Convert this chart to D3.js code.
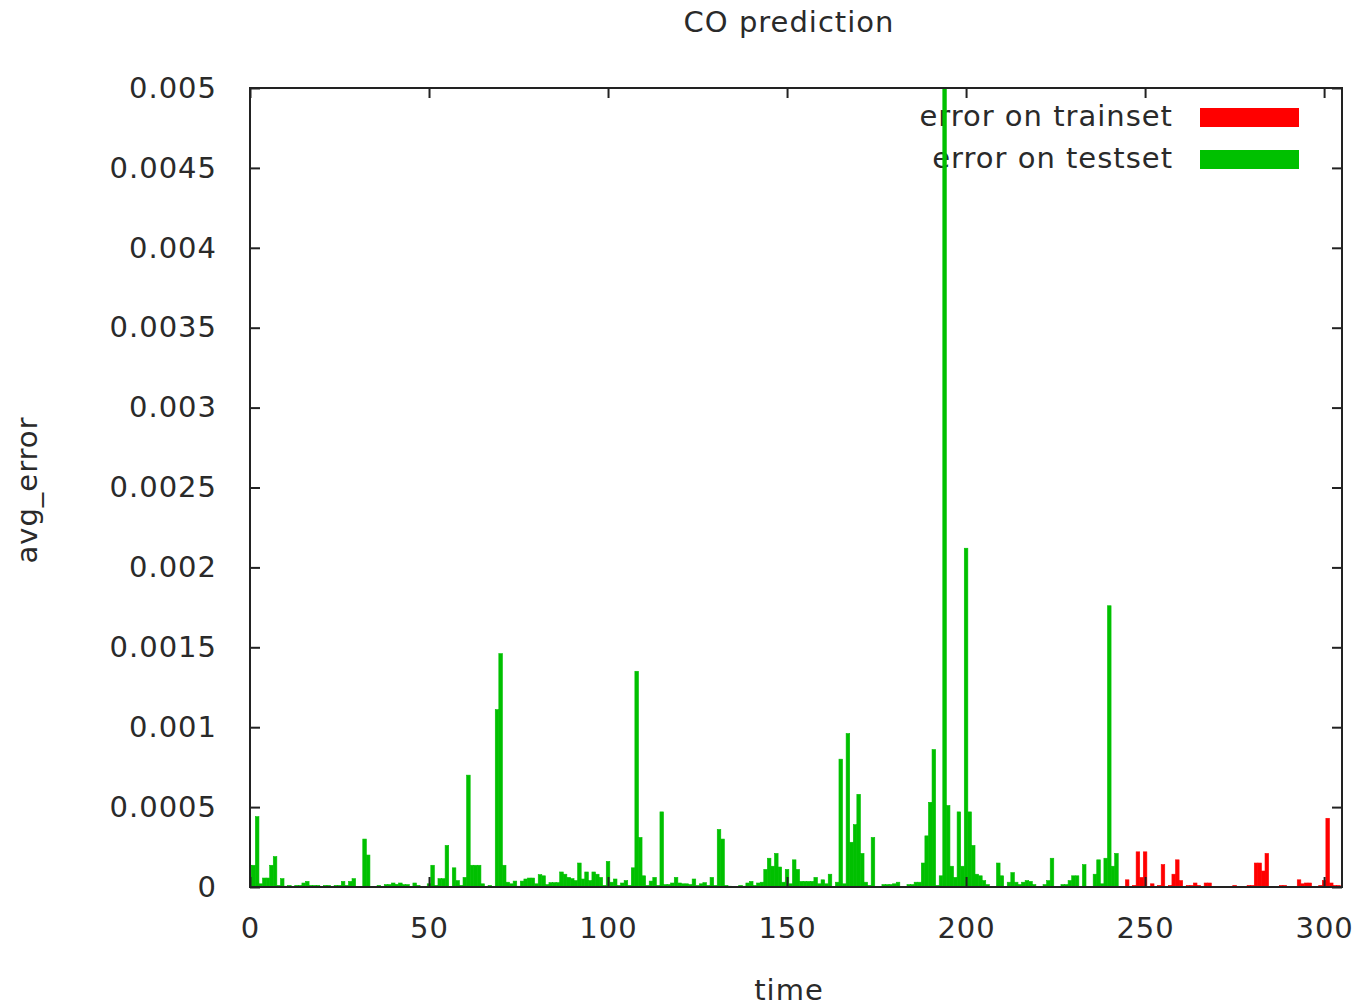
<html>
<head>
  <title>CO prediction</title>
  <script src="https://d3js.org/d3.v7.min.js"></script>
  <style>
  body { margin: 0; background: #fff; }
  text { font-family: "DejaVu Sans", sans-serif; fill: #2a2a2a; letter-spacing: 1px; }
  </style>
</head>
<body>
  <script>

// avg error on the test set, one value per time step starting at 0
var testErr = [
  0.000136, 0.000136, 0.00044, 0.00002, 0.000056, 0.000056, 0.000136, 0.00019, 0.00001, 0.000052,
  0.000005, 0.00001, 0, 0.00001, 0.00001, 0.000025, 0.000035, 0.00001, 0.00001, 0.00001,
  0, 0.00001, 0.00001, 0, 0.00001, 0.00001, 0.000035, 0.00001, 0.000035, 0.000052,
  0, 0, 0.0003, 0.0002, 0, 0, 0.00001, 0, 0.000015, 0.000015,
  0.000025, 0.000017, 0.000025, 0.000015, 0.000015, 0, 0.000025, 0.00001, 0, 0,
  0.00002, 0.000136, 0.00001, 0.000052, 0.000052, 0.00026, 0, 0.00012, 0.00004, 0.00001,
  0.00006, 0.0007, 0.000136, 0.000136, 0.000136, 0.00002, 0, 0.00001, 0, 0.00111,
  0.00146, 0.000136, 0.00003, 0.00002, 0.000037, 0.000005, 0.000037, 0.00005, 0.000056, 0.000056,
  0.00002, 0.000077, 0.00007, 0.000015, 0.000027, 0.000027, 0.000027, 0.000094, 0.00008, 0.00006,
  0.000052, 0.00004, 0.00015, 0.00005, 0.000094, 0.00004, 0.000094, 0.00008, 0.00006, 0.00001,
  0.00016, 0.00003, 0.00005, 0.00001, 0.000025, 0.00004, 0.00001, 0.00012, 0.00135, 0.00031,
  0.00007, 0.00001, 0.000037, 0.00006, 0.00001, 0.00047, 0.000015, 0.000015, 0.000025, 0.00006,
  0.000025, 0.00002, 0.00002, 0.000015, 0.00005, 0.00001, 0.00002, 0.000027, 0.00001, 0.00006,
  0.00001, 0.00036, 0.0003, 0.00001, 0.000005, 0, 0, 0.00001, 0.000005, 0.000025,
  0.000035, 0.00001, 0.000025, 0.00003, 0.00011, 0.00018, 0.00013, 0.00021, 0.000125, 0.00003,
  0.00011, 0.00002, 0.00017, 0.00011, 0.000035, 0.000035, 0.000035, 0.000035, 0.00006, 0.00002,
  0.000045, 0.00002, 0.00008, 0, 0.00003, 0.0008, 0.00002, 0.00096, 0.00028, 0.00039,
  0.00058, 0.00021, 0.00003, 0.00001, 0.00031, 0, 0, 0.000015, 0.000015, 0.000015,
  0.00002, 0.00003, 0, 0, 0.000015, 0.000015, 0.00003, 0.00003, 0.00015, 0.00032,
  0.00053, 0.00086, 0.00001, 0.00007, 0.0052, 0.00051, 0.00013, 0.00006, 0.00047, 0.00013,
  0.00212, 0.00047, 0.00026, 0.00008, 0.00007, 0.00004, 0.000015, 0, 0, 0.00015,
  0.00007, 0, 0.00003, 0.00009, 0.00003, 0.000015, 0.00003, 0.00004, 0.000035, 0.000015,
  0, 0, 0.000015, 0.00004, 0.00018, 0, 0, 0.000015, 0.000015, 0.00004,
  0.00007, 0.00007, 0, 0.00014, 0, 0, 0.00008, 0.00017, 0.00002, 0.00018,
  0.00176, 0.00013, 0.00021
];

// avg error on the train set, starts at time 243
var trainStart = 243;
var trainErr = [
  0, 0, 0.000045, 0, 0.00001, 0.00022, 0.00006, 0.00022, 0, 0.00002,
  0, 0.00001, 0.00014, 0, 0.00001, 0.00008, 0.00017, 0.00004, 0, 0.00001,
  0.00001, 0.000025, 0.00001, 0, 0.000025, 0.000025, 0, 0, 0, 0,
  0, 0, 0.00001, 0, 0, 0, 0.00001, 0.00001, 0.00015, 0.00015,
  0.0001, 0.00021, 0, 0, 0, 0.00001, 0.00001, 0, 0, 0,
  0.000045, 0.00002, 0.000025, 0.000025, 0, 0, 0.00001, 0.00004, 0.00043, 0.000025,
  0.00001, 0.00001
];

var xTicks = [0, 50, 100, 150, 200, 250, 300];
var yTicks = [0, 0.0005, 0.001, 0.0015, 0.002, 0.0025, 0.003, 0.0035, 0.004, 0.0045, 0.005];
var yTickLabels = ['0', '0.0005', '0.001', '0.0015', '0.002', '0.0025', '0.003', '0.0035', '0.004', '0.0045', '0.005'];

var width = 1359,
    height = 1008;
var pLeft = 250, pRight = 1342, pTop = 88, pBottom = 887;

var svg = d3.select('body')
  .append('svg')
  .attr('width', width)
  .attr('height', height);

var x = d3.scaleLinear().domain([0, 305]).range([pLeft, pRight]);
var y = d3.scaleLinear().domain([0, 0.005]).range([pBottom, pTop]);

var red = '#ff0000', green = '#00c000';

svg.append('clipPath').attr('id', 'plotclip')
  .append('rect')
  .attr('x', pLeft).attr('y', pTop)
  .attr('width', pRight - pLeft).attr('height', pBottom - pTop);

// legend (drawn under the bars, like the original)
var legend = [
  {label: 'error on trainset', color: red},
  {label: 'error on testset', color: green}
];
var leg = svg.append('g');
leg.selectAll('text')
  .data(legend)
  .enter()
  .append('text')
  .attr('x', 1173)
  .attr('y', function(d, i) { return 116 + i * 42; })
  .attr('dy', '0.35em')
  .attr('text-anchor', 'end')
  .style('font-size', '29px')
  .text(function(d) { return d.label; });
leg.selectAll('rect')
  .data(legend)
  .enter()
  .append('rect')
  .attr('x', 1200)
  .attr('y', function(d, i) { return 108 + i * 42; })
  .attr('width', 99)
  .attr('height', 19)
  .attr('fill', function(d) { return d.color; });

// bars
var bw = x(1) - x(0);
var bars = svg.append('g').attr('clip-path', 'url(#plotclip)');

function drawSeries(vals, start, color) {
  bars.append('g')
    .selectAll('rect')
    .data(vals)
    .enter()
    .append('rect')
    .attr('x', function(d, i) { return x(start + i - 0.5); })
    .attr('width', bw)
    .attr('y', function(d) { return y(d); })
    .attr('height', function(d) { return pBottom - y(d); })
    .attr('fill', color)
    .attr('stroke', color)
    .attr('stroke-width', 0.6);
}
drawSeries(testErr, 0, green);
drawSeries(trainErr, trainStart, red);

// axes with inward ticks mirrored on all sides
var axes = svg.append('g');
axes.append('g')
  .attr('transform', 'translate(0,' + pBottom + ')')
  .call(d3.axisBottom(x).tickValues(xTicks).tickSizeInner(-10).tickSizeOuter(0).tickPadding(30))
  .call(function(g) {
    g.select('.domain').remove();
    g.selectAll('text').style('font-size', '29px').attr('fill', '#2a2a2a');
  });
axes.append('g')
  .attr('transform', 'translate(0,' + pTop + ')')
  .call(d3.axisTop(x).tickValues(xTicks).tickSizeInner(-10).tickSizeOuter(0).tickFormat(''))
  .call(function(g) { g.select('.domain').remove(); });
axes.append('g')
  .attr('transform', 'translate(' + pLeft + ',0)')
  .call(d3.axisLeft(y).tickValues(yTicks).tickSizeInner(-10).tickSizeOuter(0).tickPadding(33)
    .tickFormat(function(d, i) { return yTickLabels[i]; }))
  .call(function(g) {
    g.select('.domain').remove();
    g.selectAll('text').style('font-size', '29px').attr('fill', '#2a2a2a');
  });
axes.append('g')
  .attr('transform', 'translate(' + pRight + ',0)')
  .call(d3.axisRight(y).tickValues(yTicks).tickSizeInner(-10).tickSizeOuter(0).tickFormat(''))
  .call(function(g) { g.select('.domain').remove(); });
axes.selectAll('.tick line').attr('stroke', '#222').attr('stroke-width', 2);

svg.append('rect')
  .attr('x', pLeft).attr('y', pTop)
  .attr('width', pRight - pLeft).attr('height', pBottom - pTop)
  .attr('fill', 'none')
  .attr('stroke', '#222')
  .attr('stroke-width', 2);

// titles
svg.append('text')
  .attr('x', (pLeft + pRight) / 2 - 7)
  .attr('y', 22)
  .attr('dy', '0.35em')
  .attr('text-anchor', 'middle')
  .style('font-size', '29px')
  .text('CO prediction');

svg.append('text')
  .attr('x', (pLeft + pRight) / 2 - 7)
  .attr('y', 990)
  .attr('dy', '0.35em')
  .attr('text-anchor', 'middle')
  .style('font-size', '29px')
  .text('time');

svg.append('text')
  .attr('transform', 'translate(27,490) rotate(-90)')
  .attr('dy', '0.35em')
  .attr('text-anchor', 'middle')
  .style('font-size', '29px')
  .text('avg_error');

  </script>
</body>
</html>
